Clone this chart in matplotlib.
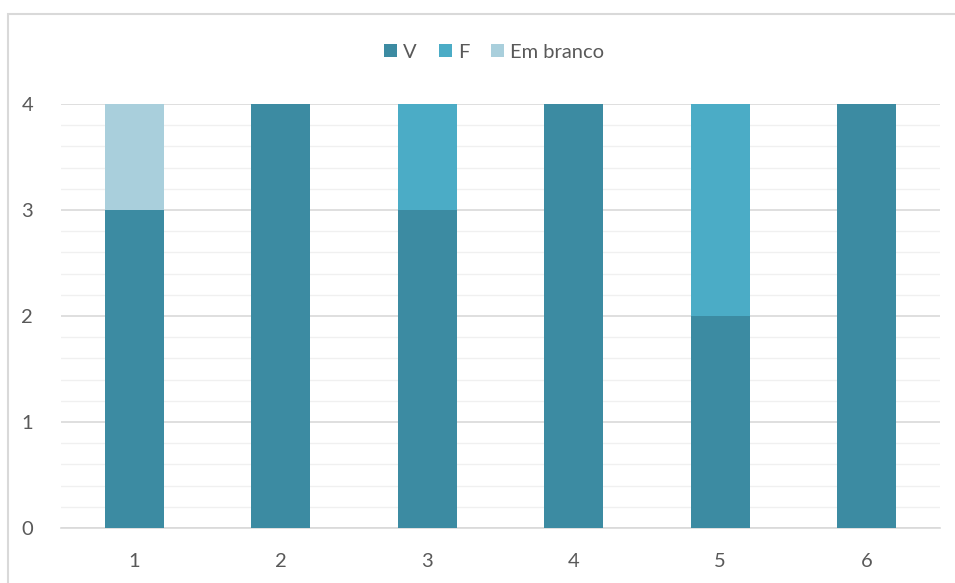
import matplotlib.pyplot as plt
from matplotlib.patches import Rectangle
import numpy as np

plt.rcParams['font.family'] = ['Lato', 'DejaVu Sans']

categories = ['1', '2', '3', '4', '5', '6']
v_vals = [3, 4, 3, 4, 2, 4]
f_vals = [0, 0, 1, 0, 2, 0]
branco_vals = [1, 0, 0, 0, 0, 0]

colors = {'V': '#3C8BA2', 'F': '#4BACC6', 'Em branco': '#A9CFDC'}
text_color = '#595959'

fig = plt.figure(figsize=(9.55, 5.83), dpi=100)
ax = fig.add_axes([61 / 955, 1 - 528 / 583, 879 / 955, 424 / 583])

# chart-area border (extends past right/bottom edge as in the reference)
fig.patches.append(Rectangle((8 / 955, -0.1), 1.2, 1 - 14 / 583 + 0.1,
                             transform=fig.transFigure, fill=False,
                             edgecolor='#D9D9D9', linewidth=1.5))

x = np.arange(len(categories))
w = 0.4
ax.bar(x, v_vals, w, color=colors['V'], label='V', zorder=3)
ax.bar(x, f_vals, w, bottom=v_vals, color=colors['F'], label='F', zorder=3)
bottom2 = np.array(v_vals) + np.array(f_vals)
ax.bar(x, branco_vals, w, bottom=bottom2, color=colors['Em branco'],
       label='Em branco', zorder=3)

ax.set_xlim(-0.5, len(categories) - 0.5)
ax.set_ylim(0, 4)
ax.set_yticks(range(5))
ax.set_yticks(np.arange(0, 4.01, 0.2), minor=True)
ax.set_xticks(x)
ax.set_xticklabels(categories)

ax.grid(axis='y', which='major', color='#D9D9D9', linewidth=1.2, zorder=0)
ax.grid(axis='y', which='minor', color='#F0F0F0', linewidth=1.0, zorder=0)
for s in ['top', 'right', 'left']:
    ax.spines[s].set_visible(False)
ax.spines['bottom'].set_color('#D9D9D9')
ax.spines['bottom'].set_linewidth(1.2)
ax.tick_params(which='both', length=0, labelsize=14.5, colors=text_color)
ax.tick_params(axis='y', pad=20)
ax.tick_params(axis='x', pad=18)

leg = fig.legend(loc='center', bbox_to_anchor=(494 / 955, 1 - 52 / 583),
                 ncol=3, frameon=False, fontsize=14.5, handlelength=0.65,
                 handleheight=0.65, handletextpad=0.3, columnspacing=1.1)
for t in leg.get_texts():
    t.set_color(text_color)

fig.savefig('out.png', dpi=100)
